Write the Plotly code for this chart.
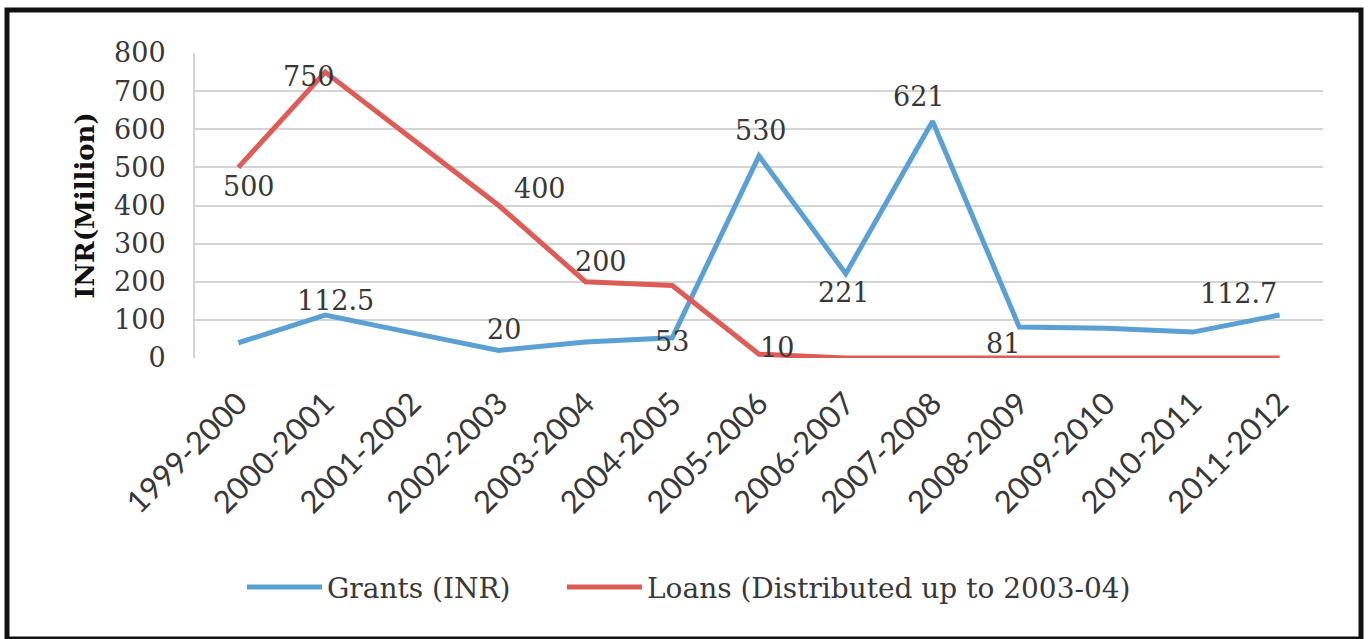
import plotly.graph_objects as go

# Financial years on the category axis
years = ["1999-2000", "2000-2001", "2001-2002", "2002-2003", "2003-2004",
         "2004-2005", "2005-2006", "2006-2007", "2007-2008", "2008-2009",
         "2009-2010", "2010-2011", "2011-2012"]

# INR (Million)
grants = [40, 112.5, 66, 20, 42, 53, 530, 221, 621, 81, 78, 68, 112.7]
loans = [500, 750, 575, 400, 200, 190, 10, 0, 0, 0, 0, 0, 0]

# Value labels: (year index, xshift, yshift)
loan_labels = [(0, 11, -19), (1, -16, -4), (3, 41, 17), (4, 16, 20), (6, 18, 7)]
grant_labels = [(1, 10, 15), (3, 5, 21), (5, 0, -4), (6, 2, 25), (7, -2, -19),
                (8, -14, 25), (9, -16, -16), (12, -41, 22)]

BLUE = "#5ba0d3"
RED = "#de5c57"
TEXT = "#383838"
SERIF = "DejaVu Serif"

fig = go.Figure()
fig.add_trace(go.Scatter(x=years, y=grants, mode="lines", name="Grants (INR)",
                         line=dict(color=BLUE, width=5), legend="legend"))
fig.add_trace(go.Scatter(x=years, y=loans, mode="lines",
                         name="Loans (Distributed up to 2003-04)",
                         line=dict(color=RED, width=5), legend="legend2"))

annotations = []
for values, labels in ((loans, loan_labels), (grants, grant_labels)):
    for i, dx, dy in labels:
        v = values[i]
        annotations.append(dict(
            x=years[i], y=v, text=f"{v:g}", showarrow=False,
            xshift=dx, yshift=dy, font=dict(family=SERIF, size=27, color=TEXT)))

# Outer frame around the whole chart
L, T, W, H = 195, 53, 1128, 305
def px_x(p):
    return (p - L) / W
def px_y(p):
    return (T + H - p) / H

shapes = [dict(type="rect", xref="paper", yref="paper",
               x0=px_x(7), x1=px_x(1361), y0=px_y(639), y1=px_y(10),
               line=dict(color="#111111", width=5), layer="above")]

legend_style = dict(orientation="h", xref="container", yref="container",
                    xanchor="left", y=0.081, yanchor="middle",
                    font=dict(family=SERIF, size=28, color=TEXT),
                    itemwidth=75, bgcolor="rgba(0,0,0,0)")

fig.update_layout(
    width=1369, height=639,
    margin=dict(l=L, r=1369 - L - W, t=T, b=639 - T - H),
    paper_bgcolor="white", plot_bgcolor="white",
    showlegend=True,
    legend=dict(legend_style, x=242 / 1369),
    legend2=dict(legend_style, x=562 / 1369),
    annotations=annotations,
    shapes=shapes,
)

fig.update_xaxes(
    type="category", categoryarray=years, range=[-0.5, 12.5],
    showgrid=False, zeroline=False, showline=False,
    tickangle=-45, ticks="", ticklabelstandoff=20,
    tickfont=dict(family="Lato", size=31, color=TEXT),
)
fig.update_yaxes(
    range=[0, 800], dtick=100, tick0=0,
    showgrid=True, gridcolor="#d4d4d4", gridwidth=2,
    zeroline=False, showline=True, linecolor="#d4d4d4", linewidth=2,
    ticks="", ticklabelstandoff=22,
    tickfont=dict(family=SERIF, size=27, color=TEXT),
    title=dict(text="<b>INR(Million)</b>", standoff=12,
               font=dict(family=SERIF, size=26, color="#111111")),
)

fig.write_html("out.html")
